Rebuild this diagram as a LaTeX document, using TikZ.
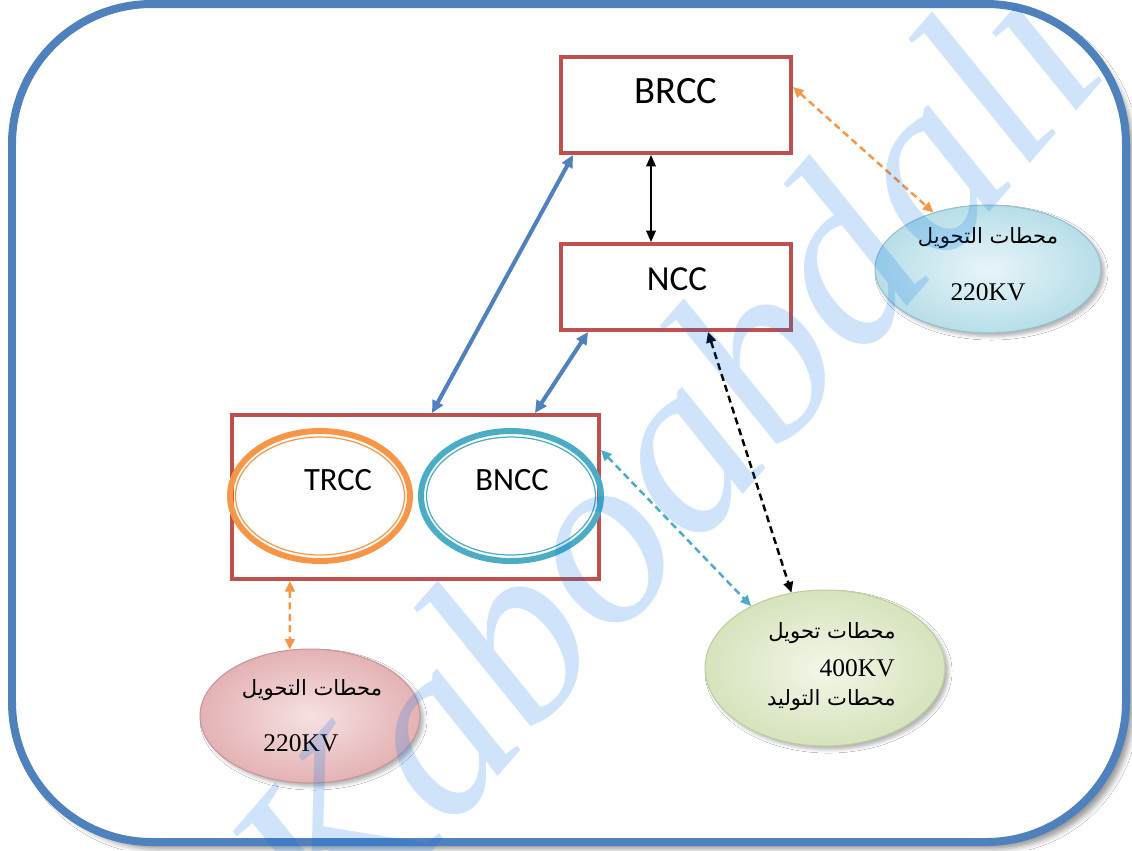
\documentclass[tikz,border=0pt]{standalone}
\usepackage{fontspec}
\setmainfont{Liberation Serif}
\newfontfamily\labelfont{Carlito}
\newfontfamily\arabicfont[Script=Arabic]{DejaVu Sans}
\TeXXeTstate=1
\usetikzlibrary{arrows.meta,shapes.geometric,shadows.blur}

\definecolor{frameblue}{RGB}{79,129,189}
\definecolor{boxred}{RGB}{192,80,77}
\definecolor{ringorange}{RGB}{247,150,70}
\definecolor{ringteal}{RGB}{75,172,198}
\definecolor{markblue}{RGB}{0,112,235}
\definecolor{skyin}{RGB}{232,245,249}
\definecolor{skyout}{RGB}{183,222,232}
\definecolor{skyline}{RGB}{150,190,205}
\definecolor{leafin}{RGB}{243,247,233}
\definecolor{leafout}{RGB}{214,227,188}
\definecolor{leafline}{RGB}{190,205,160}
\definecolor{roseout}{RGB}{228,178,180}
\definecolor{rosein}{RGB}{246,225,226}
\definecolor{roseline}{RGB}{200,150,150}

\tikzset{
  frame/.style={draw=frameblue, line width=0.16cm, rounded corners=2.8cm, fill=white,
    blur shadow={shadow xshift=4pt, shadow yshift=-4pt, shadow blur radius=3pt, shadow opacity=40}},
  ctrbox/.style={draw=boxred, line width=0.08cm, rectangle, inner sep=0pt, fill=white},
  ctrlabel/.style={font=\labelfont\fontsize{20}{22}\selectfont, inner sep=0pt},
  ringthick/.style={ellipse, draw=#1, line width=0.12cm, inner sep=0pt,
    minimum width=3.6cm, minimum height=2.6cm},
  ringthin/.style={ellipse, draw=#1, line width=0.7pt, inner sep=0pt,
    minimum width=3.38cm, minimum height=2.36cm},
  station/.style={ellipse, draw=#1, line width=0.6pt, inner sep=0pt,
    blur shadow={shadow xshift=2pt, shadow yshift=-2pt, shadow blur radius=2pt, shadow opacity=30}},
  artext/.style={font=\arabicfont\fontsize{12}{14}\selectfont, inner sep=0pt},
  kvtext/.style={font=\fontsize{14.5}{16}\selectfont, inner sep=0pt},
  solidlink/.style={line width=0.9pt, black,
    {Triangle[length=6.5pt,width=5.5pt]}-{Triangle[length=6.5pt,width=5.5pt]}},
  bluelink/.style={line width=2.3pt, frameblue,
    {Triangle[length=7pt,width=6.5pt]}-{Triangle[length=7pt,width=6.5pt]}},
  dashlink/.style={line width=1.4pt, #1, dash pattern=on 4pt off 2.5pt,
    {Triangle[length=6pt,width=5.5pt]}-{Triangle[length=6pt,width=5.5pt]}},
  watermark/.style={font=\fontsize{142}{142}\selectfont\itshape, text=markblue,
    text opacity=0.19, inner sep=0pt, rotate=49}
}

\begin{document}
\begin{tikzpicture}[x=0.02cm, y=-0.02cm]
  % page background and size
  \fill[white] (0,0) rectangle (1132,850);
  \useasboundingbox (0,0) rectangle (1132,850);

  % outer rounded frame
  \draw[frame] (12,4) rectangle (1126,842);

  % substation ellipses
  \node[station=skyline, shading=radial, inner color=skyin, outer color=skyout,
        minimum width=4.52cm, minimum height=2.56cm] (sky) at (988,269) {};
  \node[station=leafline, shading=radial, inner color=leafin, outer color=leafout,
        minimum width=4.8cm, minimum height=3.12cm] (leaf) at (825,668) {};
  \node[station=roseline, shading=radial, inner color=rosein, outer color=roseout,
        minimum width=4.4cm, minimum height=2.68cm] (rose) at (310,716) {};

  % control centre boxes
  \node[ctrbox, minimum width=4.6cm, minimum height=1.92cm] (brcc) at (676,105) {};
  \node[ctrbox, minimum width=4.6cm, minimum height=1.72cm] (ncc) at (676,287) {};
  \node[ctrbox, minimum width=7.34cm, minimum height=3.28cm] (big) at (415.5,497) {};

  % regional centres inside the lower box
  \node[ringthick=ringorange] (trcc) at (320,496) {};
  \node[ringthin=ringorange] (trccin) at (320,496) {};
  \node[ringthick=ringteal] (bncc) at (511,496) {};
  \node[ringthin=ringteal] (bnccin) at (511,496) {};

  % labels of the centres
  \node[ctrlabel, font=\labelfont\fontsize{22}{24}\selectfont] (brcclabel) at (676,91) {BRCC};
  \node[ctrlabel] (ncclabel) at (677,279) {NCC};
  \node[ctrlabel, font=\labelfont\fontsize{18.5}{20}\selectfont] (trcclabel) at (338,480) {TRCC};
  \node[ctrlabel, font=\labelfont\fontsize{18.5}{20}\selectfont] (bncclabel) at (512,480) {BNCC};

  % substation labels
  \node[artext] (skyname) at (988,238) {\beginR محطات التحويل\endR};
  \node[kvtext] (skykv) at (988,292) {220KV};
  \node[artext, anchor=east] (leafname) at (896,633) {\beginR محطات تحويل\endR};
  \node[kvtext, anchor=east] (leafkv) at (895,668) {400KV};
  \node[artext, anchor=east] (leafgen) at (896,700) {\beginR محطات التوليد\endR};
  \node[artext] (rosename) at (312,690) {\beginR محطات التحويل\endR};
  \node[kvtext] (rosekv) at (301,743) {220KV};

  % links
  \draw[solidlink] ([xshift=-0.5cm]brcc.south) -- ([xshift=-0.5cm]ncc.north);
  \draw[bluelink] ([xshift=0.28cm]brcc.south west) -- ([xshift=0.33cm]big.north);
  \draw[bluelink] ([xshift=0.58cm]ncc.south west) -- ([xshift=2.39cm]big.north);
  \draw[dashlink=black] ([xshift=0.64cm]ncc.south) -- (leaf.114);
  \draw[dashlink=ringteal] ([yshift=0.94cm]big.east) -- (leaf.140);
  \draw[dashlink=ringorange] ([yshift=0.36cm]brcc.east) -- (sky.134);
  \draw[dashlink=ringorange] ([xshift=-2.51cm]big.south) -- (rose.107);

  % watermark
  \node[watermark] (mark) at (662,458) {Kaboabdali};
\end{tikzpicture}
\end{document}
